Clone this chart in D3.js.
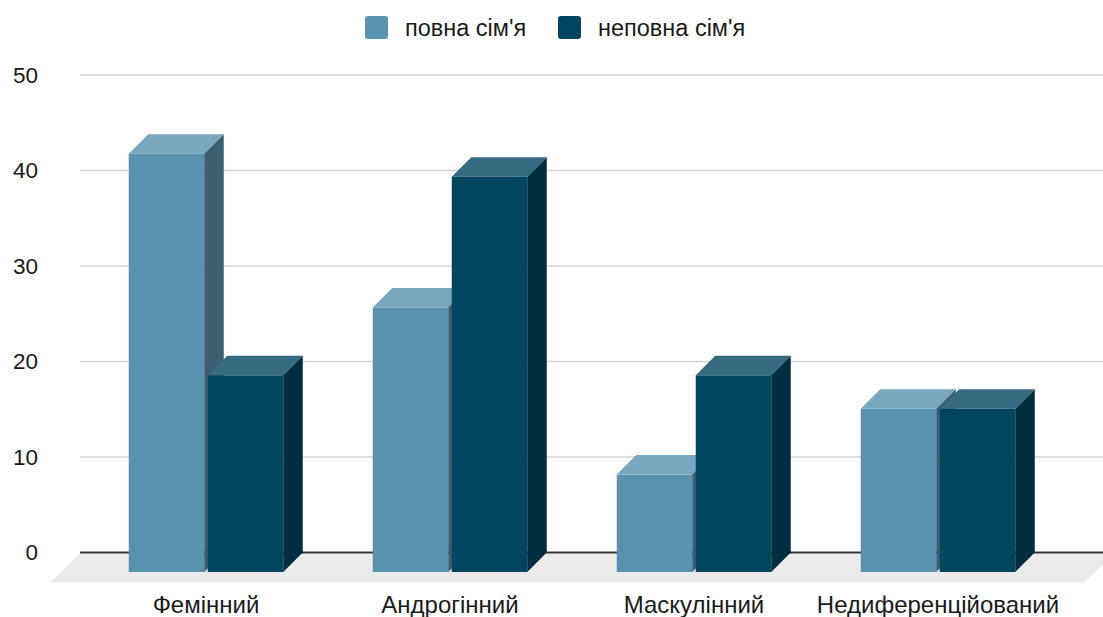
<!DOCTYPE html>
<html><head><meta charset="utf-8">
<script src="https://cdn.jsdelivr.net/npm/d3@7"></script>
<style>body{margin:0;background:#fff}svg{display:block;font-family:"Liberation Sans",Arial,sans-serif}</style>
</head><body><svg id="c" width="1103" height="617"></svg>
<script>
const categories = ["Фемінний", "Андрогінний", "Маскулінний", "Недиференційований"];
const seriesNames = ["повна сім'я", "неповна сім'я"];
const full = [43.8, 27.7, 10.2, 17.1];
const incomplete = [20.6, 41.4, 20.6, 17.1];
const yTicks = [0, 10, 20, 30, 40, 50];

const svg = d3.select("#c");
const W = 1103;
const dx = 19.5, dy = 19.5;
const y = d3.scaleLinear().domain([0, 50]).range([552.5, 75]);
const x = d3.scaleBand().domain(categories).range([84, 1060]).padding(0);
const pairW = 154.5;
const inner = d3.scaleBand().domain(seriesNames).range([0, pairW]).paddingInner(3.5/79).paddingOuter(0);
const colors = {
  "повна сім'я": {front:"#5892af", top:"#79a7be", side:"#3b5f70", legend:"#5a93b0"},
  "неповна сім'я": {front:"#01455f", top:"#356b80", side:"#012e3f", legend:"#01445f"}
};

// floor
const y0 = y(0);
svg.append("polygon")
  .attr("points", [[80, y0+1], [1115, y0+1], [1084, y0+30], [50, y0+30]].map(p=>p.join(",")).join(" "))
  .attr("fill", "#ebebeb");

// gridlines
svg.append("g").selectAll("line").data(yTicks.filter(t=>t>0)).join("line")
  .attr("x1", 80).attr("x2", W).attr("y1", d=>y(d)).attr("y2", d=>y(d))
  .attr("stroke", "#d3d3d3").attr("stroke-width", 1.6);
svg.append("line").attr("x1", 80).attr("x2", W).attr("y1", y0).attr("y2", y0)
  .attr("stroke", "#333").attr("stroke-width", 1.8);

// y labels
svg.append("g").selectAll("text").data(yTicks).join("text")
  .attr("x", 38).attr("y", d=>y(d)).attr("dy", "0.35em")
  .attr("text-anchor", "end").attr("font-size", 22.5).attr("fill", "#1a1a1a")
  .text(d=>d);

// bars
const data = [];
categories.forEach((c,i)=>{
  data.push({cat:c, s:seriesNames[0], v:full[i]});
  data.push({cat:c, s:seriesNames[1], v:incomplete[i]});
});
const gap = (x.bandwidth() - pairW)/2;
const bw = inner.bandwidth();
const bars = svg.append("g").selectAll("g").data(data).join("g");
bars.each(function(d){
  const g = d3.select(this);
  const xl = x(d.cat) + gap + inner(d.s);
  const yt = y(d.v) + dy, yb = y(0) + dy;
  const c = colors[d.s];
  g.append("rect").attr("x", xl).attr("y", yt).attr("width", bw).attr("height", yb-yt).attr("fill", c.front);
  g.append("polygon").attr("points", [[xl,yt],[xl+dx,yt-dy],[xl+bw+dx,yt-dy],[xl+bw,yt]].map(p=>p.join(",")).join(" ")).attr("fill", c.top);
  g.append("polygon").attr("points", [[xl+bw,yt],[xl+bw+dx,yt-dy],[xl+bw+dx,yb-dy],[xl+bw,yb]].map(p=>p.join(",")).join(" ")).attr("fill", c.side);
});

// category labels
svg.append("g").selectAll("text").data(categories).join("text")
  .attr("x", d=>x(d)+gap+pairW/2).attr("y", 613)
  .attr("text-anchor", "middle").attr("font-size", 24).attr("fill", "#1a1a1a")
  .text(d=>d);

// legend
const legX = [365, 558];
const lg = svg.append("g").selectAll("g").data(seriesNames).join("g")
  .attr("transform", (d,i)=>`translate(${legX[i]},16)`);
lg.append("rect").attr("width", 23).attr("height", 23).attr("rx", 3).attr("fill", d=>colors[d].legend);
lg.append("text").attr("x", 40).attr("y", 11.5).attr("dy", "0.35em").attr("font-size", 23.5).attr("fill", "#1a1a1a").text(d=>d);
</script></body></html>
